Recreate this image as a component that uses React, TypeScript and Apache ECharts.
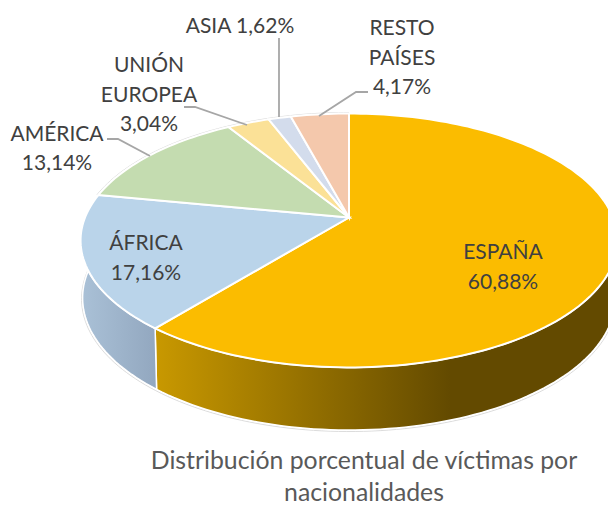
import React, { useEffect, useRef } from "react";
import * as echarts from "echarts";

const categories = ["ESPAÑA", "ÁFRICA", "AMÉRICA", "UNIÓN\nEUROPEA", "ASIA", "RESTO\nPAÍSES"];
const shares = [60.88, 17.16, 13.14, 3.04, 1.62, 4.17];
const shareLabels = ["60,88%", "17,16%", "13,14%", "3,04%", "1,62%", "4,17%"];
const chartTitle = "Distribución porcentual de víctimas por\nnacionalidades";

const topColors = ["#fbbc00", "#bad4ea", "#c4dcb0", "#fbe197", "#d3dcec", "#f4c8ac"];
const FONT = "Lato, 'Open Sans', sans-serif";

// label anchors (block centre) and leader lines
const labelCentres = [[503, 265.5], [146, 256.5], [57, 147], [149, 93], [240, 24], [402, 56]];
const leaders: number[][][] = [
  [],
  [],
  [[107, 139], [118, 139], [150, 156]],
  [[184, 107], [195, 107], [247, 125]],
  [[279, 38], [279, 117]],
  [[368, 92], [356, 92], [319, 116]],
];

// perspective of the tilted disc
const K = 0.181;
const project = (deg: number, x0: number, y0: number, b: number, a: number) => {
  const t = (deg * Math.PI) / 180;
  const u = Math.sin(t);
  const v = -Math.cos(t);
  const d = 1 - K * v;
  return [x0 + (b * u) / d, y0 + (a * v) / d];
};
const topRim = (deg: number) => project(deg, 349, 217.5, 264, 122.8);
const topHalo = (deg: number) => project(deg, 349, 217.5, 265.5, 124);
const bottomRim = (deg: number) => project(deg, 349, 274, 262, 127.8);
const bottomHalo = (deg: number) => project(deg, 349, 275, 263, 128.2);

const total = shares.reduce((s, v) => s + v, 0);
const sliceAngles = (i: number) => {
  const before = shares.slice(0, i).reduce((s, v) => s + v, 0);
  return [(before / total) * 360, ((before + shares[i]) / total) * 360];
};
const arc = (from: number, to: number, rim: (d: number) => number[]) => {
  const n = Math.max(2, Math.ceil((to - from) / 1.5));
  const pts: number[][] = [];
  for (let j = 0; j <= n; j++) pts.push(rim(from + ((to - from) * j) / n));
  return pts;
};

const sideFill = (i: number): any => {
  if (i === 0)
    return new echarts.graphic.LinearGradient(157, 0, 450, 0, [
      { offset: 0, color: "#c89800" },
      { offset: 1, color: "#634a00" },
    ], true as any);
  if (i === 1)
    return new echarts.graphic.LinearGradient(84, 0, 157, 0, [
      { offset: 0, color: "#a9c0d6" },
      { offset: 1, color: "#92a7bf" },
    ], true as any);
  return topColors[i];
};

const data = shares.map((v) => [v]);

export default function App() {
  const ref = useRef<HTMLDivElement>(null);
  useEffect(() => {
    const chart = echarts.init(ref.current!, undefined, { renderer: "svg" });
    chart.setOption({
      animation: false,
      backgroundColor: "#ffffff",
      title: {
        text: chartTitle,
        left: 364,
        top: 443,
        padding: 0,
        textAlign: "center",
        textStyle: { color: "#595959", fontSize: 24.8, fontWeight: "normal", fontFamily: FONT, lineHeight: 32 },
      },
      series: [
        {
          type: "custom",
          coordinateSystem: "none",
          silent: true,
          data,
          z: 1,
          renderItem: (params: any) => {
            const [a0, a1] = sliceAngles(params.dataIndex);
            const pts = arc(a0, a1, topRim).concat(arc(a0, a1, bottomRim).reverse());
            return {
              type: "group",
              children: [
                {
                  type: "polyline",
                  shape: { points: arc(a0, a1, bottomHalo) },
                  style: { fill: "none", stroke: "#dcdcdc", lineWidth: 1 },
                },
                {
                  type: "polygon",
                  shape: { points: pts },
                  style: { fill: sideFill(params.dataIndex), stroke: "#ffffff", lineWidth: 1.5 },
                },
              ],
            };
          },
        },
        {
          type: "custom",
          coordinateSystem: "none",
          silent: true,
          data,
          z: 2,
          renderItem: (params: any) => {
            const i = params.dataIndex;
            const [a0, a1] = sliceAngles(i);
            const pts = [[349, 217.5]].concat(arc(a0, a1, topRim));
            const children: any[] = [];
            if (i >= 2)
              children.push({
                type: "polyline",
                shape: { points: arc(a0, a1, topHalo) },
                style: { fill: "none", stroke: "#dcdcdc", lineWidth: 1 },
              });
            children.push({
              type: "polygon",
              shape: { points: pts },
              style: { fill: topColors[i], stroke: "#ffffff", lineWidth: 2 },
            });
            return { type: "group", children };
          },
        },
        {
          type: "custom",
          coordinateSystem: "none",
          silent: true,
          data,
          z: 3,
          renderItem: (params: any) => {
            const i = params.dataIndex;
            const sep = i === 4 ? " " : "\n";
            const children: any[] = [];
            if (leaders[i].length)
              children.push({
                type: "polyline",
                shape: { points: leaders[i] },
                style: { fill: "none", stroke: "#a6a6a6", lineWidth: 1.8 },
              });
            children.push({
              type: "text",
              style: {
                text: categories[i] + sep + shareLabels[i],
                x: labelCentres[i][0],
                y: labelCentres[i][1],
                fill: "#404040",
                fontSize: 21,
                fontFamily: FONT,
                lineHeight: 29.5,
                textAlign: "center",
                textVerticalAlign: "middle",
              },
            });
            return { type: "group", children };
          },
        },
      ],
    });
    return () => chart.dispose();
  }, []);
  return <div ref={ref} style={{ position: "fixed", left: 0, top: 0, width: 608, height: 507 }} />;
}
